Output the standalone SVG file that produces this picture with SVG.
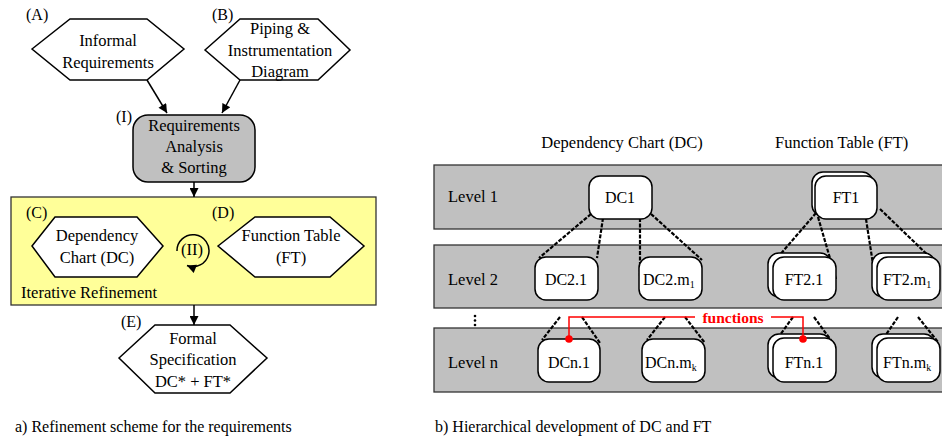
<svg xmlns="http://www.w3.org/2000/svg" width="942" height="439" viewBox="0 0 942 439">
<defs>
<style>
text{font-family:"Liberation Serif","Times New Roman",serif;font-size:16.5px;fill:#000}
.c{text-anchor:middle}
.hex{fill:#fff;stroke:#000;stroke-width:1.5}
.box{fill:#fff;stroke:#000;stroke-width:1.5}
.band{fill:#c0c0c0;stroke:#333;stroke-width:1.3}
.arr{fill:none;stroke:#000;stroke-width:1.5}
.dash{fill:none;stroke:#000;stroke-width:2.2;stroke-dasharray:4,1.5}
.red{fill:none;stroke:#f00;stroke-width:1.5}
.lab{font-size:16px}
.n{font-size:16px}
</style>
<marker id="ah" viewBox="0 0 10 10" refX="10" refY="5" markerWidth="11" markerHeight="9" markerUnits="userSpaceOnUse" orient="auto">
<path d="M0,0 L10,5 L0,10 z" fill="#000"/>
</marker>
</defs>
<rect width="942" height="439" fill="#fff"/>

<!-- Left: refinement scheme -->
<rect id="iterative" x="11" y="197" width="365" height="108" fill="#ffff99" stroke="#333" stroke-width="1.3"/>
<text x="21" y="298">Iterative Refinement</text>

<g id="nodeA">
<polygon class="hex" points="32,49 70,19 147,19 184,49 147,80 70,80"/>
<text x="26" y="20" class="lab">(A)</text>
<text class="c" x="108" y="46">Informal</text>
<text class="c" x="108" y="68">Requirements</text>
</g>
<g id="nodeB">
<polygon class="hex" points="205,50 240,19 318,19 350,50 318,80 240,80"/>
<text x="212" y="20" class="lab">(B)</text>
<text class="c" x="280" y="34">Piping &amp;</text>
<text class="c" x="280" y="56">Instrumentation</text>
<text class="c" x="280" y="77">Diagram</text>
</g>
<g id="nodeI">
<rect x="133" y="115" width="122" height="67" rx="15" fill="#c0c0c0" stroke="#000" stroke-width="1.5"/>
<text x="116" y="122" class="lab">(I)</text>
<text class="c" x="194" y="131">Requirements</text>
<text class="c" x="194" y="152">Analysis</text>
<text class="c" x="194" y="173">&amp; Sorting</text>
</g>
<g id="nodeC">
<polygon class="hex" points="32,246 55,217 137,217 163,246 137,277 55,277"/>
<text x="26" y="218" class="lab">(C)</text>
<text class="c" x="97" y="241">Dependency</text>
<text class="c" x="97" y="263">Chart (DC)</text>
</g>
<g id="nodeD">
<polygon class="hex" points="218,246 255,217 330,217 364,246 330,277 255,277"/>
<text x="212" y="218" class="lab">(D)</text>
<text class="c" x="291" y="241">Function Table</text>
<text class="c" x="291" y="263">(FT)</text>
</g>
<g id="loopII">
<text class="c" x="192" y="255">(II)</text>
</g>
<g id="nodeE">
<polygon class="hex" points="119,358 155,325 230,325 267,358 230,393 155,393"/>
<text x="121" y="327" class="lab">(E)</text>
<text class="c" x="193" y="344">Formal</text>
<text class="c" x="193" y="365">Specification</text>
<text class="c" x="193" y="387">DC* + FT*</text>
</g>
<text x="15" y="432" class="lab">a) Refinement scheme for the requirements</text>

<g id="connectors-left">
<line class="arr" x1="147" y1="80" x2="167" y2="113" marker-end="url(#ah)"/>
<line class="arr" x1="240" y1="80" x2="222" y2="113" marker-end="url(#ah)"/>
<line class="arr" x1="194" y1="182" x2="194" y2="197" marker-end="url(#ah)"/>
<line class="arr" x1="194" y1="305" x2="194" y2="325" marker-end="url(#ah)"/>
<path class="arr" d="M177,251 A16,16 0 1 1 187,265.5" marker-end="url(#ah)"/>
</g>

<!-- Right: hierarchical development -->
<text class="c" x="622" y="148">Dependency Chart (DC)</text>
<text x="775" y="148">Function Table  (FT)</text>

<g id="bands">
<rect class="band" x="434" y="165" width="520" height="64"/>
<rect class="band" x="434" y="245" width="520" height="63"/>
<rect class="band" x="434" y="328" width="520" height="64"/>
<text x="448" y="202">Level 1</text>
<text x="448" y="285">Level 2</text>
<text x="448" y="368">Level n</text>
<g fill="#000"><circle cx="475" cy="316" r="1.3"/><circle cx="475" cy="320.5" r="1.3"/><circle cx="475" cy="325" r="1.3"/></g>
</g>

<g id="connectors-right">
<line class="dash" x1="591" y1="214" x2="539" y2="258"/>
<line class="dash" x1="603" y1="218" x2="597" y2="258"/>
<line class="dash" x1="640" y1="218" x2="640" y2="276"/>
<line class="dash" x1="651" y1="214" x2="702" y2="260"/>
<line class="dash" x1="816" y1="213" x2="778" y2="257"/>
<line class="dash" x1="818" y1="217" x2="836" y2="279"/>
<line class="dash" x1="866" y1="219" x2="875" y2="277"/>
<line class="dash" x1="880" y1="209" x2="936" y2="263"/>
<line class="dash" x1="560" y1="317" x2="542" y2="340"/>
<line class="dash" x1="582" y1="317" x2="600" y2="343"/>
<line class="dash" x1="665" y1="317" x2="647" y2="340"/>
<line class="dash" x1="685" y1="317" x2="705" y2="343"/>
<line class="dash" x1="793" y1="317" x2="775" y2="342"/>
<line class="dash" x1="814" y1="317" x2="833" y2="343"/>
<line class="dash" x1="898" y1="317" x2="881" y2="342"/>
<line class="dash" x1="918" y1="317" x2="938" y2="342"/>
</g>

<g id="DC1"><rect class="box" x="589" y="176" width="63" height="43" rx="11"/><text class="c n" x="620" y="203">DC1</text></g>
<g id="DC2_1"><rect class="box" x="535" y="257" width="63" height="43" rx="11"/><text class="c n" x="566" y="285">DC2.1</text></g>
<g id="DC2_m1"><rect class="box" x="639" y="257" width="63" height="43" rx="11"/><text class="n" x="643" y="285">DC2.m<tspan font-size="10" dy="3">1</tspan></text></g>
<g id="DCn_1"><rect class="box" x="538" y="339" width="62" height="43" rx="11"/><text class="c n" x="569" y="368">DCn.1</text></g>
<g id="DCn_mk"><rect class="box" x="642" y="339" width="63" height="43" rx="11"/><text class="n" x="645" y="368">DCn.m<tspan font-size="10" dy="3">k</tspan></text></g>

<g id="FT1"><rect class="box" x="812" y="172" width="61" height="44" rx="11"/><rect class="box" x="815" y="176" width="62" height="43" rx="11"/><text class="c n" x="846" y="203">FT1</text></g>
<g id="FT2_1"><rect class="box" x="768" y="253" width="63" height="44" rx="11"/><rect class="box" x="773" y="257" width="63" height="43" rx="11"/><text class="c n" x="804" y="285">FT2.1</text></g>
<g id="FT2_m1"><rect class="box" x="872" y="253" width="63" height="44" rx="11"/><rect class="box" x="877" y="257" width="63" height="43" rx="11"/><text class="n" x="883" y="285">FT2.m<tspan font-size="10" dy="3">1</tspan></text></g>
<g id="FTn_1"><rect class="box" x="768" y="334" width="63" height="44" rx="11"/><rect class="box" x="773" y="338" width="63" height="44" rx="11"/><text class="c n" x="804" y="368">FTn.1</text></g>
<g id="FTn_mk"><rect class="box" x="872" y="334" width="63" height="44" rx="11"/><rect class="box" x="877" y="338" width="63" height="44" rx="11"/><text class="n" x="883" y="368">FTn.m<tspan font-size="10" dy="3">k</tspan></text></g>

<g id="functions-label">
<polyline class="red" points="569,339 569,317 695,317"/>
<polyline class="red" points="771,317 803,317 803,339"/>
<circle cx="569" cy="339" r="3.8" fill="#f00"/>
<circle cx="803" cy="339" r="3.8" fill="#f00"/>
<text class="c" x="733" y="323" style="fill:#f00;font-size:15.5px;font-weight:bold">functions</text>
</g>

<text x="435" y="432" class="lab">b) Hierarchical development of DC and FT</text>
</svg>
